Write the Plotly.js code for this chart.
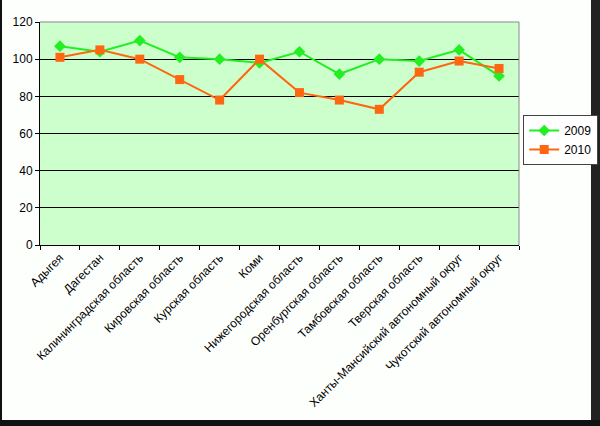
<!DOCTYPE html>
<html>
<head>
<meta charset="utf-8">
<script src="https://cdn.plot.ly/plotly-3.0.1.min.js"></script>
<style>html,body{margin:0;padding:0;background:#fff;}#chart{width:600px;height:426px;}</style>
</head>
<body>
<div id="chart"></div>
<script>
const categories = ["Адыгея","Дагестан","Калининградская область","Кировская область","Курская область","Коми","Нижегородская область","Оренбургская область","Тамбовская область","Тверская область","Ханты-Мансийский автономный округ","Чукотский автономный округ"];
const values2009 = [107, 104, 110, 101, 100, 98, 104, 92, 100, 99, 105, 91];
const values2010 = [101, 105, 100, 89, 78, 100, 82, 78, 73, 93, 99, 95];
const yTicks = [0, 20, 40, 60, 80, 100, 120];

const traces = [
  {x: categories, y: values2009, name: "2009", type: "scatter", mode: "lines+markers",
   line: {color: "#22EE22", width: 2}, marker: {symbol: "diamond", size: 9, color: "#22EE22"}},
  {x: categories, y: values2010, name: "2010", type: "scatter", mode: "lines+markers",
   line: {color: "#FF6611", width: 2}, marker: {symbol: "square", size: 9, color: "#FF6611"}}
];

const layout = {
  width: 600, height: 426,
  margin: {l: 40, r: 81, t: 22, b: 181},
  paper_bgcolor: "#FCFFFC",
  plot_bgcolor: "#CCFFCC",
  font: {family: "Liberation Sans, Arial, sans-serif", size: 12, color: "#000"},
  showlegend: true,
  legend: {xref: "container", yref: "container", x: 0.872, y: 0.73, xanchor: "left", yanchor: "top",
           bgcolor: "#FFFFFF", bordercolor: "#444", borderwidth: 1, font: {size: 12},
           tracegroupgap: 0, itemwidth: 30},
  xaxis: {type: "category", tickangle: -45, ticks: "outside", ticklen: 4, tickcolor: "#000",
          tickson: "boundaries", showgrid: false, showline: true, linecolor: "#000", linewidth: 1,
          tickfont: {size: 12}, range: [-0.5, 11.5], fixedrange: true},
  yaxis: {range: [0, 120], tickvals: yTicks, ticks: "outside", ticklen: 4, tickcolor: "#000",
          showgrid: true, gridcolor: "#000", gridwidth: 1, showline: true, linecolor: "#000",
          linewidth: 1, zeroline: false, tickfont: {size: 12}},
  shapes: [
    {type: "line", xref: "paper", yref: "paper", x0: 0, x1: 1, y0: 1, y1: 1, line: {color: "#888", width: 1}, layer: "above"},
    {type: "line", xref: "paper", yref: "paper", x0: 1, x1: 1, y0: 0, y1: 1, line: {color: "#888", width: 1}, layer: "above"},
    {type: "rect", xref: "paper", yref: "paper", x0: -0.0835, x1: 1.1691, y0: 1.0987, y1: 1.1166, fillcolor: "#111", line: {width: 0}, layer: "above"},
    {type: "rect", xref: "paper", yref: "paper", x0: -0.0835, x1: 0.46, y0: 1.0987, y1: 1.1166, fillcolor: "#0A6A0A", line: {width: 0}, layer: "above"},
    {type: "rect", xref: "paper", yref: "paper", x0: 1.1503, x1: 1.1691, y0: -0.82, y1: 1.12, fillcolor: "#222", line: {width: 0}, layer: "above"},
    {type: "rect", xref: "paper", yref: "paper", x0: -0.0835, x1: 1.1691, y0: -0.815, y1: -0.785, fillcolor: "#111", line: {width: 0}, layer: "above"},
    {type: "rect", xref: "paper", yref: "paper", x0: -0.0835, x1: -0.0793, y0: -0.82, y1: 1.12, fillcolor: "#111", line: {width: 0}, layer: "above"}
  ]
};

Plotly.newPlot("chart", traces, layout, {displayModeBar: false, staticPlot: true});
</script>
</body>
</html>
